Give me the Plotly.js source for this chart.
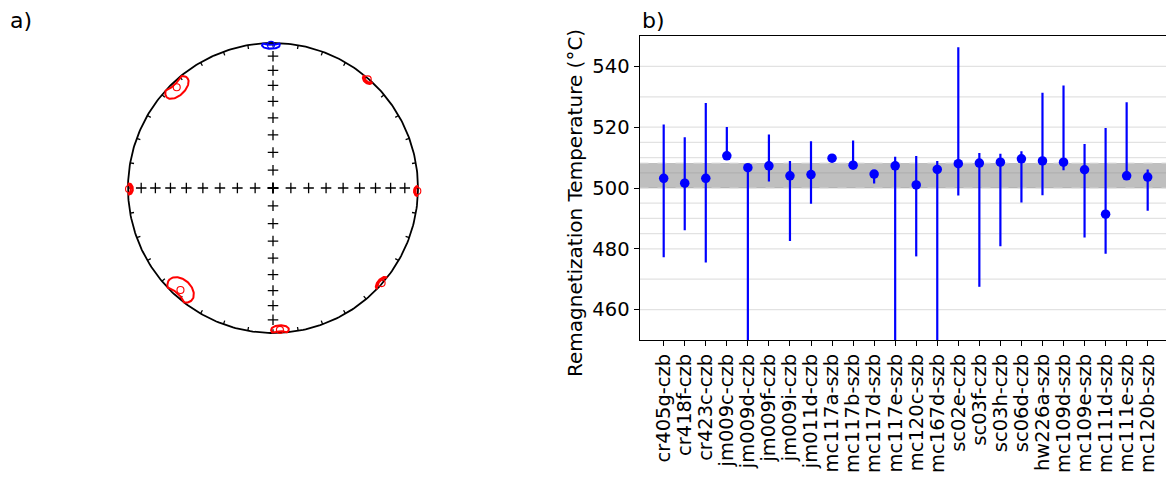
<!DOCTYPE html>
<html>
<head>
<meta charset="utf-8">
<script src="https://cdn.plot.ly/plotly-3.0.1.min.js"></script>
<style>html,body{margin:0;padding:0;background:#fff;}#plot{width:1166px;height:481px;}</style>
</head>
<body>
<div id="plot"></div>
<script>
// ---------- panel a) stereonet data ----------
const dirDec   = [359.2, 316.3, 41.1, 269.6, 91.2, 222.2, 131.2, 177.2];
const dirInc   = [1.5,   4.4,   0.7,  0.8,   0.5,  5.6,   0.5,   2.3];
const ellTan   = [3.6,   5.8,   2.2,  2.2,   2.0,  6.3,   3.0,   3.6];   // semi-angle along strike (deg)
const ellRad   = [3.0,   6.2,   3.0,  3.0,   2.5,  7.8,   3.0,   3.5];   // semi-angle along dip (deg)
const dirColor = ['blue','red','red','red','red','red','red','red'];

// ---------- panel b) data ----------
const samples = ['cr405g-czb','cr418f-czb','cr423c-czb','jm009c-czb','jm009d-czb','jm009f-czb',
  'jm009i-czb','jm011d-czb','mc117a-szb','mc117b-szb','mc117d-szb','mc117e-szb','mc120c-szb',
  'mc167d-szb','sc02e-czb','sc03f-czb','sc03h-czb','sc06d-czb','hw226a-szb','mc109d-szb',
  'mc109e-szb','mc111d-szb','mc111e-szb','mc120b-szb'];
const remagT = [503.2,501.6,503.2,510.6,506.7,507.3,504.0,504.4,509.8,507.5,504.6,507.3,501.0,
  506.1,508.0,508.2,508.5,509.6,508.9,508.5,506.0,491.4,504.0,503.6];
const remagUpper = [520.9,516.7,528.0,520.1,507.0,517.6,508.9,515.4,510.0,515.6,504.8,510.3,510.5,
  508.9,546.3,511.5,511.3,512.1,531.3,533.7,514.5,519.7,528.2,506.1];
const remagLower = [477.2,486.1,475.5,510.4,440.0,502.1,482.6,494.8,509.6,507.3,501.5,440.0,477.5,
  440.0,497.5,467.5,480.8,495.2,497.6,505.8,483.7,478.4,503.8,492.5];
const bandLow = 500.0, bandHigh = 508.2;
const gridValues = [460,470,480,485,490,495,500,505,510,515,520,530,540];
const yTickValues = [460,480,500,520,540];

const W = 1166, H = 481;
const d2r = Math.PI/180;

function proj(v){ // equal-area projection (pmagpy style), v=[north,east,down]
  const h = Math.sqrt(v[0]*v[0]+v[1]*v[1]);
  const R = h > 0 ? Math.sqrt(1-Math.abs(v[2]))/h : 0;
  return [v[1]*R, v[0]*R];
}
function dirVec(dec, inc){
  return [Math.cos(inc*d2r)*Math.cos(dec*d2r), Math.cos(inc*d2r)*Math.sin(dec*d2r), Math.sin(inc*d2r)];
}

const traces = [];
// primitive circle
{
  const cx=[], cy=[];
  for (let a=0;a<=360;a+=1){ const p=proj(dirVec(a,0)); cx.push(p[0]); cy.push(p[1]); }
  traces.push({x:cx,y:cy,mode:'lines',line:{color:'black',width:1.8},xaxis:'x',yaxis:'y',hoverinfo:'skip'});
}
// ticks
{
  const tx=[], ty=[];
  for (let D=0; D<360; D+=10){
    for (let I=0; I<4; I++){ const p=proj(dirVec(D,I)); tx.push(p[0]); ty.push(p[1]); }
    tx.push(null); ty.push(null);
  }
  traces.push({x:tx,y:ty,mode:'lines',line:{color:'black',width:1.3},xaxis:'x',yaxis:'y',hoverinfo:'skip'});
}
// crosses
{
  const sx=[], sy=[];
  for (const D of [0,90,180,270]) for (let I=10; I<100; I+=10){ const p=proj(dirVec(D,I)); sx.push(p[0]); sy.push(p[1]); }
  traces.push({x:sx,y:sy,mode:'markers',marker:{symbol:'cross-thin',size:7.5,line:{color:'black',width:1.3}},xaxis:'x',yaxis:'y',hoverinfo:'skip'});
}
// ellipses + means
for (let k=0;k<dirDec.length;k++){
  const dec=dirDec[k]*d2r, inc=dirInc[k]*d2r;
  const v0=dirVec(dirDec[k],dirInc[k]);
  const vt=[-Math.sin(dec), Math.cos(dec), 0];
  const vr=[-Math.sin(inc)*Math.cos(dec), -Math.sin(inc)*Math.sin(dec), Math.cos(inc)];
  const ex=[], ey=[];
  for (let i=0;i<=100;i++){
    const psi=i*Math.PI/50;
    const t0=Math.sin(ellTan[k]*d2r)*Math.cos(psi);
    const t1=Math.sin(ellRad[k]*d2r)*Math.sin(psi);
    const t2=Math.sqrt(1-t0*t0-t1*t1);
    const p=[0,1,2].map(j=>t0*vt[j]+t1*vr[j]+t2*v0[j]);
    const q=proj(p); ex.push(q[0]); ey.push(q[1]);
  }
  traces.push({x:ex,y:ey,mode:'lines',line:{color:dirColor[k],width:2},xaxis:'x',yaxis:'y',hoverinfo:'skip'});
  const m=proj(v0);
  traces.push({x:[m[0]],y:[m[1]],mode:'markers',marker:{symbol:'circle-open',size:7,color:dirColor[k],line:{width:1.1}},xaxis:'x',yaxis:'y',hoverinfo:'skip'});
}

// panel b trace
traces.push({
  x: samples, y: remagT, type:'scatter', mode:'markers', xaxis:'x2', yaxis:'y2',
  marker:{color:'blue',size:9.5},
  error_y:{type:'data',symmetric:false,
    array: remagUpper.map((u,i)=>u-remagT[i]),
    arrayminus: remagLower.map((l,i)=>remagT[i]-l),
    color:'blue',thickness:2.2,width:0}
});

// stereonet geometry: center (273,188) px, radius 145 px
const sR=145, sCx=273, sCy=188, sRange=1.2;
const sx0=(sCx-sR*sRange)/W, sx1=(sCx+sR*sRange)/W;
const sy0=(H-(sCy+sR*sRange))/H, sy1=(H-(sCy-sR*sRange))/H;

// bar panel geometry
const bx0=639.5/W, by0=(H-340)/H, by1=(H-36)/H;

const shapes = [];
for (const g of gridValues){
  shapes.push({type:'line',xref:'x2 domain',yref:'y2',x0:0,x1:1,y0:g,y1:g,line:{color:'#e2e2e2',width:1.3},layer:'below'});
}
shapes.push({type:'rect',xref:'x2 domain',yref:'y2',x0:0,x1:1,y0:bandLow,y1:bandHigh,fillcolor:'rgba(128,128,128,0.5)',line:{width:0},layer:'below'});
for (const b of [bandLow,bandHigh]){
  shapes.push({type:'line',xref:'x2 domain',yref:'y2',x0:0,x1:1,y0:b,y1:b,line:{color:'#dddddd',width:1,dash:'dash'},layer:'below'});
}

const font = {family:'DejaVu Sans, sans-serif', color:'black'};
const tickFont = {family:'DejaVu Sans, sans-serif', size:19.5, color:'black'};
const layout = {
  width:W, height:H, margin:{l:0,r:0,t:0,b:0}, showlegend:false,
  paper_bgcolor:'white', plot_bgcolor:'rgba(0,0,0,0)',
  font:{family:'DejaVu Sans, sans-serif', size:19.5, color:'black'},
  xaxis:{domain:[sx0,sx1], range:[-sRange,sRange], visible:false, fixedrange:true},
  yaxis:{domain:[sy0,sy1], range:[-sRange,sRange], visible:false, fixedrange:true},
  xaxis2:{domain:[bx0,1], anchor:'y2', type:'category', range:[-1.15,23.87],
    tickmode:'array', tickvals:samples, ticktext:samples,
    showline:true, linecolor:'black', linewidth:1, mirror:true, showgrid:false, zeroline:false,
    ticks:'outside', ticklen:5, tickwidth:1, tickcolor:'black', tickangle:-90,
    tickfont:tickFont},
  yaxis2:{domain:[by0,by1], anchor:'x2', range:[450,550],
    showline:true, linecolor:'black', linewidth:1, mirror:false, showgrid:false, zeroline:false,
    tickvals:yTickValues, ticks:'outside', ticklen:5, tickwidth:1, tickcolor:'black',
    tickfont:tickFont},
  shapes: shapes,
  annotations:[
    {text:'a)', xref:'paper', yref:'paper', x:8/W, y:(H-20)/H, xanchor:'left', yanchor:'middle', showarrow:false, font:{...font,size:22}},
    {text:'b)', xref:'paper', yref:'paper', x:640/W, y:(H-20)/H, xanchor:'left', yanchor:'middle', showarrow:false, font:{...font,size:22}},
    {text:'Remagnetization Temperature (°C)', xref:'paper', yref:'paper', x:575/W, y:(H-203)/H, xanchor:'center', yanchor:'middle', textangle:-90, showarrow:false, font:{...font,size:20}}
  ]
};
Plotly.newPlot('plot', traces, layout, {displayModeBar:false, staticPlot:true});
</script>
</body>
</html>
